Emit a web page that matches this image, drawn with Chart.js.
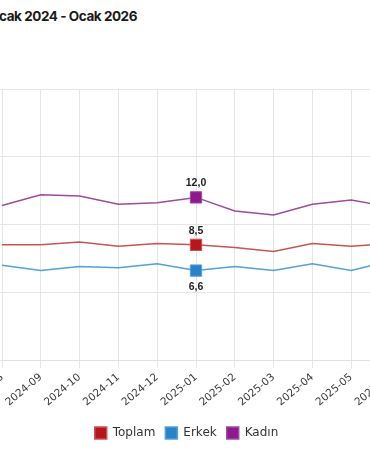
<!DOCTYPE html>
<html>
<head>
<meta charset="utf-8">
<script src="https://cdn.jsdelivr.net/npm/chart.js@4.4.1/dist/chart.umd.min.js"></script>
<style>
  html, body { margin: 0; padding: 0; background: #fff; width: 370px; height: 450px; overflow: hidden; position: relative; }
  #title { position: absolute; right: 233px; top: 9px; white-space: nowrap; font: 700 13.5px/14px Inter, "Liberation Sans", sans-serif; color: #1a1a1a; letter-spacing: -0.45px; }
  #c { position: absolute; left: -39px; top: 0; }
</style>
</head>
<body>
<div id="title">Cinsiyete göre işsizlik oranı (%), Ocak 2024 - Ocak 2026</div>
<canvas id="c" width="451" height="450"></canvas>
<script>
const months = ['2024-08','2024-09','2024-10','2024-11','2024-12','2025-01','2025-02','2025-03','2025-04','2025-05','2025-06'];
const toplam = [8.5, 8.5, 8.7, 8.4, 8.6, 8.5, 8.3, 8.0, 8.6, 8.4, 8.6];
const erkek  = [7.0, 6.6, 6.9, 6.8, 7.1, 6.6, 6.9, 6.6, 7.1, 6.6, 7.3];
const kadin  = [11.4, 12.2, 12.1, 11.5, 11.6, 12.0, 11.0, 10.7, 11.5, 11.8, 11.3];
const seriesNames = ['Toplam', 'Erkek', 'Kadın'];
const yTickValues = [0, 5, 10, 15, 20];
const markedMonth = '2025-01';

const markIdx = months.indexOf(markedMonth);
const fills = ['#b5171c', '#2a83c9', '#8e1b8e'];
const lines = ['#c85454', '#55a0d6', '#9c4c9c'];
const labelSide = ['above', 'below', 'above'];

const valueLabels = {
  id: 'valueLabels',
  afterDatasetsDraw(chart) {
    const ctx = chart.ctx;
    ctx.save();
    ctx.font = '700 10.5px "Liberation Sans", Arial, sans-serif';
    ctx.fillStyle = '#222';
    ctx.textAlign = 'center';
    chart.data.datasets.forEach((ds, di) => {
      const pt = chart.getDatasetMeta(di).data[markIdx];
      if (!pt) return;
      const txt = ds.data[markIdx].toFixed(1).replace('.', ',');
      if (labelSide[di] === 'above') {
        ctx.textBaseline = 'alphabetic';
        ctx.fillText(txt, pt.x, pt.y - 11);
      } else {
        ctx.textBaseline = 'top';
        ctx.fillText(txt, pt.x, pt.y + 11);
      }
    });
    ctx.restore();
  }
};

const seriesData = [toplam, erkek, kadin];
new Chart(document.getElementById('c'), {
  type: 'line',
  data: {
    labels: months,
    datasets: seriesData.map((d, i) => ({
      label: seriesNames[i],
      data: d,
      borderColor: lines[i],
      backgroundColor: fills[i],
      borderWidth: 1.5,
      tension: 0,
      pointStyle: 'rect',
      pointBackgroundColor: fills[i],
      pointBorderColor: lines[i],
      pointBorderWidth: 1,
      pointRadius: c => c.dataIndex === markIdx ? 8 : 0,
      pointHoverRadius: c => c.dataIndex === markIdx ? 8 : 0
    }))
  },
  options: {
    responsive: false,
    animation: false,
    events: [],
    layout: { padding: { top: 89, left: 22, right: 22, bottom: 1 } },
    plugins: {
      title: { display: false },
      tooltip: { enabled: false },
      legend: {
        position: 'bottom',
        labels: {
          boxWidth: 12, boxHeight: 12, padding: 10,
          color: '#333',
          font: { family: '"DejaVu Sans", sans-serif', size: 12 }
        }
      }
    },
    scales: {
      x: {
        grid: { color: '#e6e6e6', tickLength: 8 },
        border: { color: '#e0e0e0' },
        ticks: {
          autoSkip: false, minRotation: 40, maxRotation: 40,
          color: '#3a3a3a', padding: 3,
          font: { family: '"DejaVu Sans", sans-serif', size: 10.5 }
        },
        afterFit(s) { s.paddingLeft = 0; s.paddingRight = 0; s.height = 57; }
      },
      y: {
        min: 0, max: 20,
        grid: { color: '#e6e6e6' },
        border: { color: '#e6e6e6' },
        ticks: { color: '#444', font: { family: '"DejaVu Sans", sans-serif', size: 10 } },
        afterBuildTicks(s) { s.ticks = yTickValues.map(v => ({ value: v })); },
        afterFit(s) { s.width = 19; s.paddingTop = 0; s.paddingBottom = 0; }
      }
    }
  },
  plugins: [valueLabels]
});
</script>
</body>
</html>
